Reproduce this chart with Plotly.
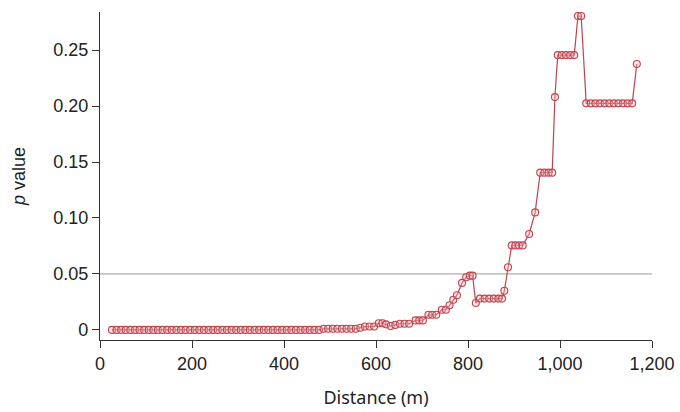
import plotly.graph_objects as go

distance_m = (
    [26, 36, 46, 56, 66, 76, 86, 96, 106, 116, 126, 136, 146, 156, 166, 176, 186, 196,
     206, 216, 226, 236, 246, 256, 266, 276, 286, 296, 306, 316, 326, 336, 346, 356,
     366, 376, 386, 396, 406, 416, 426, 436, 446, 456, 466, 476,
     486, 496, 506, 516, 526, 536, 546, 556,
     566, 576, 586, 596, 606, 614, 622, 632, 642, 652, 662, 672,
     686, 694, 702, 714, 722, 731, 743, 752, 760, 768, 776, 787, 796, 804, 810,
     817, 826, 836, 846, 856, 866, 874, 879, 887, 895, 903, 911, 919, 933, 946,
     957, 966, 975, 983, 989, 995, 1004, 1013, 1022, 1031, 1039, 1046,
     1057, 1067, 1077, 1087, 1097, 1107, 1117, 1127, 1137, 1147, 1157, 1167]
)
p_value = (
    [0.0] * 46
    + [0.001] * 8
    + [0.002, 0.003, 0.003, 0.003, 0.006, 0.006, 0.005, 0.0035, 0.0045, 0.0055, 0.0055, 0.0055,
       0.0085, 0.0085, 0.0085, 0.0135, 0.0135, 0.0135, 0.018, 0.018, 0.022, 0.027, 0.031,
       0.042, 0.047, 0.0485, 0.0485,
       0.024, 0.028, 0.028, 0.028, 0.028, 0.028, 0.028, 0.035, 0.056,
       0.0755, 0.0755, 0.0755, 0.0755, 0.0857, 0.105,
       0.1405, 0.1405, 0.1405, 0.1405, 0.208,
       0.2455, 0.2455, 0.2455, 0.2455, 0.2455, 0.2804, 0.2804]
    + [0.2024] * 11
    + [0.2375]
)
threshold = 0.05
x_ticks = [0, 200, 400, 600, 800, 1000, 1200]
y_ticks = [0, 0.05, 0.10, 0.15, 0.20, 0.25]
y_tick_labels = ["0", "0.05", "0.10", "0.15", "0.20", "0.25"]

red = "#c0434d"

fig = go.Figure()
fig.add_trace(go.Scatter(
    x=[0, 1200], y=[threshold, threshold], mode="lines",
    line=dict(color="#9a9a9a", width=1), hoverinfo="skip", showlegend=False,
))
fig.add_trace(go.Scatter(
    x=distance_m, y=p_value, mode="lines+markers",
    line=dict(color=red, width=1.2),
    marker=dict(symbol="circle", size=7, color="rgba(240,190,195,0.35)",
                line=dict(color=red, width=1.1)),
    showlegend=False,
))

axis_font = dict(family="Liberation Sans, Arial, sans-serif", size=18, color="#222")
fig.update_layout(
    width=680, height=412,
    margin=dict(l=100, r=28, t=12, b=72),
    paper_bgcolor="white", plot_bgcolor="white",
    xaxis=dict(
        range=[0, 1200], tickvals=x_ticks, tickformat=",", showgrid=False, zeroline=False,
        showline=True, linecolor="#333", linewidth=1.3, ticks="outside", ticklen=7,
        tickcolor="#333", tickfont=axis_font, automargin=False,
        title=dict(text="Distance (m)", font=dict(family="Noto Sans, sans-serif", size=18, color="#222"),
                   standoff=18),
    ),
    yaxis=dict(
        range=[-0.009, 0.284], tickvals=y_ticks, ticktext=y_tick_labels, showgrid=False,
        zeroline=False, showline=True, linecolor="#333", linewidth=1.3, ticks="outside",
        ticklen=7, tickcolor="#333", tickfont=axis_font, automargin=False,
        title=dict(text="<i>p</i> value", font=dict(family="Liberation Sans, Arial, sans-serif", size=18, color="#222"),
                   standoff=22),
    ),
)
fig.write_html("out.html", config={"displayModeBar": False},
               post_script="document.body.style.margin='0';")
